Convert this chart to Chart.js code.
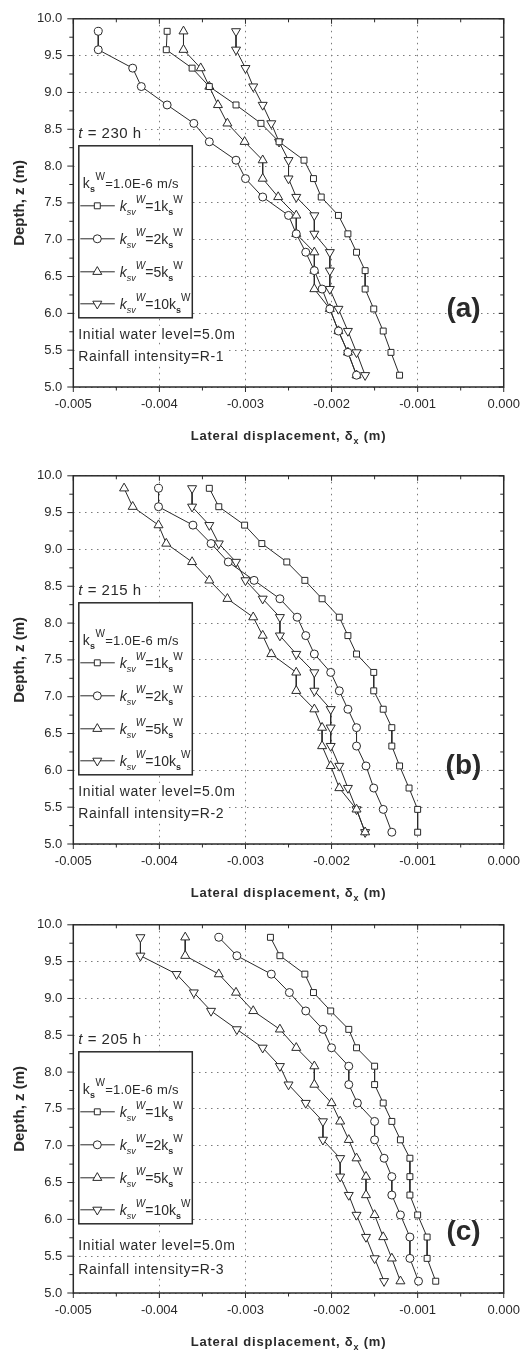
<!DOCTYPE html>
<html>
<head>
<meta charset="utf-8">
<title>Lateral displacement profiles</title>
<script src="https://cdn.jsdelivr.net/npm/chart.js@4.4.1/dist/chart.umd.min.js"></script>
<style>
  html, body { margin:0; padding:0; background:#fff; }
  body { width:530px; height:1351px; position:relative; overflow:hidden; }
  .panel { position:absolute; left:0; width:530px; height:447px; }
  canvas { display:block; }
</style>
</head>
<body>
<div class="panel" style="top:0px"><canvas id="chartA" width="530" height="447"></canvas></div>
<div class="panel" style="top:457px"><canvas id="chartB" width="530" height="447"></canvas></div>
<div class="panel" style="top:906px"><canvas id="chartC" width="530" height="447"></canvas></div>
<script>
// ---------------- data ----------------
const depth = [9.83, 9.58, 9.33, 9.08, 8.83, 8.58, 8.33, 8.08, 7.83, 7.58, 7.33, 7.08, 6.83, 6.58, 6.33, 6.06, 5.76, 5.47, 5.16];

// (a) t = 230 h, R-1
const dispA_k1  = [-0.00391, -0.00392, -0.00362, -0.00342, -0.00311, -0.00282, -0.00261, -0.00232, -0.00221, -0.00212, -0.00192, -0.00181, -0.00171, -0.00161, -0.00161, -0.00151, -0.00140, -0.00131, -0.00121];
const dispA_k2  = [-0.00471, -0.00471, -0.00431, -0.00421, -0.00391, -0.00360, -0.00342, -0.00311, -0.00300, -0.00280, -0.00250, -0.00241, -0.00230, -0.00220, -0.00211, -0.00202, -0.00192, -0.00181, -0.00171];
const dispA_k5  = [-0.00372, -0.00372, -0.00352, -0.00342, -0.00332, -0.00321, -0.00301, -0.00280, -0.00280, -0.00262, -0.00241, -0.00241, -0.00220, -0.00220, -0.00220, -0.00202, -0.00192, -0.00181, -0.00171];
const dispA_k10 = [-0.00311, -0.00311, -0.00300, -0.00291, -0.00280, -0.00270, -0.00261, -0.00250, -0.00250, -0.00241, -0.00220, -0.00220, -0.00202, -0.00202, -0.00202, -0.00192, -0.00181, -0.00171, -0.00161];

// (b) t = 215 h, R-2
const dispB_k1  = [-0.00342, -0.00331, -0.00301, -0.00281, -0.00252, -0.00231, -0.00211, -0.00191, -0.00181, -0.00171, -0.00151, -0.00151, -0.00140, -0.00130, -0.00130, -0.00121, -0.00110, -0.00100, -0.00100];
const dispB_k2  = [-0.00401, -0.00401, -0.00361, -0.00340, -0.00320, -0.00290, -0.00260, -0.00240, -0.00230, -0.00220, -0.00201, -0.00191, -0.00181, -0.00171, -0.00171, -0.00160, -0.00151, -0.00140, -0.00130];
const dispB_k5  = [-0.00441, -0.00431, -0.00401, -0.00392, -0.00362, -0.00342, -0.00321, -0.00291, -0.00280, -0.00270, -0.00241, -0.00241, -0.00220, -0.00211, -0.00211, -0.00201, -0.00191, -0.00171, -0.00161];
const dispB_k10 = [-0.00362, -0.00362, -0.00342, -0.00331, -0.00311, -0.00300, -0.00280, -0.00260, -0.00260, -0.00241, -0.00220, -0.00220, -0.00201, -0.00201, -0.00201, -0.00191, -0.00181, -0.00171, -0.00161];

// (c) t = 205 h, R-3
const dispC_k1  = [-0.00271, -0.00260, -0.00231, -0.00221, -0.00201, -0.00180, -0.00171, -0.00150, -0.00150, -0.00140, -0.00130, -0.00120, -0.00109, -0.00109, -0.00109, -0.00100, -0.00089, -0.00089, -0.00079];
const dispC_k2  = [-0.00331, -0.00310, -0.00270, -0.00249, -0.00230, -0.00210, -0.00200, -0.00180, -0.00180, -0.00170, -0.00150, -0.00150, -0.00139, -0.00130, -0.00130, -0.00120, -0.00109, -0.00109, -0.00099];
const dispC_k5  = [-0.00370, -0.00370, -0.00331, -0.00311, -0.00291, -0.00260, -0.00241, -0.00220, -0.00220, -0.00200, -0.00190, -0.00180, -0.00171, -0.00160, -0.00160, -0.00150, -0.00140, -0.00130, -0.00120];
const dispC_k10 = [-0.00422, -0.00422, -0.00380, -0.00360, -0.00340, -0.00310, -0.00280, -0.00260, -0.00250, -0.00230, -0.00210, -0.00210, -0.00190, -0.00190, -0.00180, -0.00171, -0.00160, -0.00150, -0.00139];

const xTicks = [-0.005, -0.004, -0.003, -0.002, -0.001, 0.000];
const yTicks = [5.0, 5.5, 6.0, 6.5, 7.0, 7.5, 8.0, 8.5, 9.0, 9.5, 10.0];
const seriesMult = ['1', '2', '5', '10'];
const panelTimes = ['230', '215', '205'];
const panelRain = ['R-1', 'R-2', 'R-3'];
const panelTags = ['(a)', '(b)', '(c)'];
const headerText = '=1.0E-6 m/s';
const waterText = 'Initial water level=5.0m';
const xTitleMain = 'Lateral displacement, \u03B4';
const xTitleSub = 'x';
const xTitleEnd = ' (m)';
const yTitle = 'Depth, z (m)';

// ---------------- styling ----------------
const LS = '"Liberation Sans", Arial, Helvetica, sans-serif';
const INK = '#2a2a2a';
const GRID = '#7a7a7a';
function fnt(style, size) { return style + ' ' + size + 'px ' + LS; }

const markerStyles = [
  { pointStyle: 'rect', radius: 4.2, rotation: 0 },
  { pointStyle: 'circle', radius: 4, rotation: 0 },
  { pointStyle: 'triangle', radius: 5.2, rotation: 0 },
  { pointStyle: 'triangle', radius: 5.2, rotation: 180 }
];

function runsWidth(ctx, runs) {
  let w = 0;
  for (const r of runs) { ctx.font = r.f; w += ctx.measureText(r.t).width; }
  return w;
}
function drawRuns(ctx, x, y, runs) {
  let cx = x;
  for (const r of runs) {
    ctx.font = r.f;
    ctx.fillText(r.t, cx, y + (r.dy || 0));
    cx += ctx.measureText(r.t).width;
  }
  return cx;
}

const decor = {
  id: 'decor',
  beforeDraw(chart) {
    const c = chart.ctx;
    c.save(); c.fillStyle = '#fff'; c.fillRect(0, 0, chart.width, chart.height); c.restore();
  },
  afterDatasetsDraw(chart, args, o) {
    const ctx = chart.ctx, a = chart.chartArea, xs = chart.scales.x, ys = chart.scales.y;
    ctx.save();
    ctx.textAlign = 'left';
    ctx.textBaseline = 'alphabetic';

    // frame
    ctx.strokeStyle = INK;
    ctx.lineWidth = 1.5;
    ctx.strokeRect(a.left, a.top, a.right - a.left, a.bottom - a.top);

    // ticks (major + minor)
    ctx.lineWidth = 1;
    ctx.beginPath();
    for (let i = 0; i < xTicks.length; i++) {
      const xv = xTicks[i];
      const px = xs.getPixelForValue(xv);
      ctx.moveTo(px, a.bottom); ctx.lineTo(px, a.bottom + 5);
      ctx.moveTo(px, a.top); ctx.lineTo(px, a.top + 5);
      if (i < xTicks.length - 1) {
        const pm = xs.getPixelForValue((xv + xTicks[i + 1]) / 2);
        ctx.moveTo(pm, a.bottom); ctx.lineTo(pm, a.bottom + 3.5);
        ctx.moveTo(pm, a.top); ctx.lineTo(pm, a.top + 3.5);
      }
    }
    for (let i = 0; i < yTicks.length; i++) {
      const yv = yTicks[i];
      const py = ys.getPixelForValue(yv);
      ctx.moveTo(a.left - 6, py); ctx.lineTo(a.left, py);
      ctx.moveTo(a.right - 5, py); ctx.lineTo(a.right, py);
      if (i < yTicks.length - 1) {
        const pm = ys.getPixelForValue((yv + yTicks[i + 1]) / 2);
        ctx.moveTo(a.left - 4, pm); ctx.lineTo(a.left, pm);
        ctx.moveTo(a.right - 3.5, pm); ctx.lineTo(a.right, pm);
      }
    }
    ctx.stroke();

    ctx.fillStyle = INK;

    // time label
    const yT = ys.getPixelForValue(8.46);
    ctx.letterSpacing = '0.5px';
    const tRuns = [{ t: 't', f: fnt('italic', 15) }, { t: ' = ' + o.time + ' h', f: fnt('normal', 15) }];
    const tw = runsWidth(ctx, tRuns);
    ctx.fillStyle = '#fff'; ctx.fillRect(a.left + 2, yT - 9, tw + 6, 18);
    ctx.fillStyle = INK;
    drawRuns(ctx, a.left + 5, yT + 5.5, tRuns);
    ctx.letterSpacing = '0px';

    // legend box
    const bx = a.left + 5.5, by = a.top + 127, bw = 113.5, bh = 172;
    ctx.fillStyle = '#fff'; ctx.fillRect(bx, by, bw, bh);
    ctx.lineWidth = 1.5; ctx.strokeStyle = INK; ctx.strokeRect(bx, by, bw, bh);
    ctx.fillStyle = INK;
    ctx.letterSpacing = '0.3px';
    drawRuns(ctx, bx + 4, by + 42, [
      { t: 'k', f: fnt('normal', 14) },
      { t: 's', f: fnt('bold', 9), dy: 4 },
      { t: 'W', f: fnt('normal', 10), dy: -8 },
      { t: headerText, f: fnt('normal', 13) }
    ]);
    ctx.letterSpacing = '0px';
    const rows = [60, 93, 126, 158];
    for (let i = 0; i < 4; i++) {
      const ry = by + rows[i];
      ctx.strokeStyle = INK; ctx.lineWidth = 1;
      ctx.beginPath(); ctx.moveTo(bx + 1.5, ry); ctx.lineTo(bx + 36, ry); ctx.stroke();
      ctx.fillStyle = '#fff';
      Chart.helpers.drawPoint(ctx, {
        pointStyle: markerStyles[i].pointStyle, radius: markerStyles[i].radius,
        rotation: markerStyles[i].rotation, borderWidth: 1
      }, bx + 18.5, ry);
      ctx.fillStyle = INK;
      drawRuns(ctx, bx + 41, ry + 5, [
        { t: 'k', f: fnt('italic', 14) },
        { t: 'sv', f: fnt('italic', 9), dy: 4 },
        { t: 'W', f: fnt('italic', 10), dy: -8 },
        { t: '=' + seriesMult[i] + 'k', f: fnt('normal', 14) },
        { t: 's', f: fnt('bold', 9), dy: 4 },
        { t: 'W', f: fnt('normal', 10), dy: -8 }
      ]);
    }

    // water level / rainfall
    const lines = [waterText, 'Rainfall intensity=' + o.rain];
    ctx.font = fnt('normal', 14);
    ctx.letterSpacing = '0.6px';
    for (let i = 0; i < 2; i++) {
      const cy = a.top + o.infoY[i];
      const w = ctx.measureText(lines[i]).width;
      ctx.fillStyle = '#fff'; ctx.fillRect(a.left + 2, cy - 8, w + 6, 16);
      ctx.fillStyle = INK;
      ctx.fillText(lines[i], a.left + 5, cy + 5);
    }
    ctx.letterSpacing = '0px';

    // panel tag
    ctx.font = fnt('bold', 28);
    ctx.textAlign = 'center';
    ctx.textBaseline = 'middle';
    ctx.fillText(o.tag, 463.5, a.top + o.tagY);

    // x-axis title with subscript
    ctx.textAlign = 'left';
    ctx.textBaseline = 'alphabetic';
    ctx.letterSpacing = '0.8px';
    const xr = [
      { t: xTitleMain, f: fnt('bold', 13) },
      { t: xTitleSub, f: fnt('bold', 9), dy: 4 },
      { t: xTitleEnd, f: fnt('bold', 13) }
    ];
    const xw = runsWidth(ctx, xr);
    drawRuns(ctx, (a.left + a.right) / 2 - xw / 2, a.bottom + 53, xr);
    ctx.letterSpacing = '0px';

    ctx.restore();
  }
};

function makeChart(canvasId, series, idx, infoY, tagY) {
  const datasets = series.map((vals, i) => ({
    label: 'ksv=' + seriesMult[i] + 'ks',
    data: depth.map((d, j) => ({ x: vals[j], y: d })),
    showLine: true,
    borderColor: INK,
    borderWidth: 1,
    backgroundColor: '#fff',
    pointBackgroundColor: '#fff',
    pointBorderColor: INK,
    pointBorderWidth: 1,
    pointStyle: markerStyles[i].pointStyle,
    pointRadius: markerStyles[i].radius,
    pointRotation: markerStyles[i].rotation,
    pointHoverRadius: markerStyles[i].radius,
    tension: 0
  }));
  return new Chart(document.getElementById(canvasId), {
    type: 'scatter',
    data: { datasets },
    plugins: [decor],
    options: {
      responsive: false,
      maintainAspectRatio: false,
      devicePixelRatio: 1,
      animation: false,
      events: [],
      layout: { padding: { top: 15, right: 22.7, left: 0, bottom: 0 } },
      plugins: {
        legend: { display: false },
        tooltip: { enabled: false },
        decor: { time: panelTimes[idx], rain: panelRain[idx], tag: panelTags[idx], infoY, tagY }
      },
      scales: {
        x: {
          type: 'linear', min: -0.005, max: 0,
          afterBuildTicks: s => { s.ticks = xTicks.map(v => ({ value: v })); },
          afterFit: s => { s.height = 60; },
          grid: { color: GRID, lineWidth: 1, drawTicks: false },
          border: { display: false, dash: [1.5, 4.5] },
          ticks: {
            padding: 10, color: INK, font: { family: LS, size: 13 },
            maxRotation: 0, autoSkip: false,
            callback: v => Math.abs(v) < 1e-12 ? '0.000' : Number(v).toFixed(3)
          },
          title: { display: false }
        },
        y: {
          type: 'linear', min: 5, max: 10,
          afterBuildTicks: s => { s.ticks = yTicks.map(v => ({ value: v })); },
          afterFit: s => { s.width = 73.3; },
          grid: { color: GRID, lineWidth: 1, drawTicks: false },
          border: { display: false, dash: [1.5, 4.5] },
          ticks: {
            padding: 11, color: INK, font: { family: LS, size: 13 },
            autoSkip: false,
            callback: v => Number(v).toFixed(1)
          },
          title: {
            display: true, text: yTitle, color: INK,
            font: { family: LS, size: 15, weight: 'bold' },
            padding: { top: 11, bottom: 0 }
          }
        }
      }
    }
  });
}

makeChart('chartA', [dispA_k1, dispA_k2, dispA_k5, dispA_k10], 0, [315, 337], 290);
makeChart('chartB', [dispB_k1, dispB_k2, dispB_k5, dispB_k10], 1, [315, 337], 290);
makeChart('chartC', [dispC_k1, dispC_k2, dispC_k5, dispC_k10], 2, [320, 344], 307);
</script>
</body>
</html>
